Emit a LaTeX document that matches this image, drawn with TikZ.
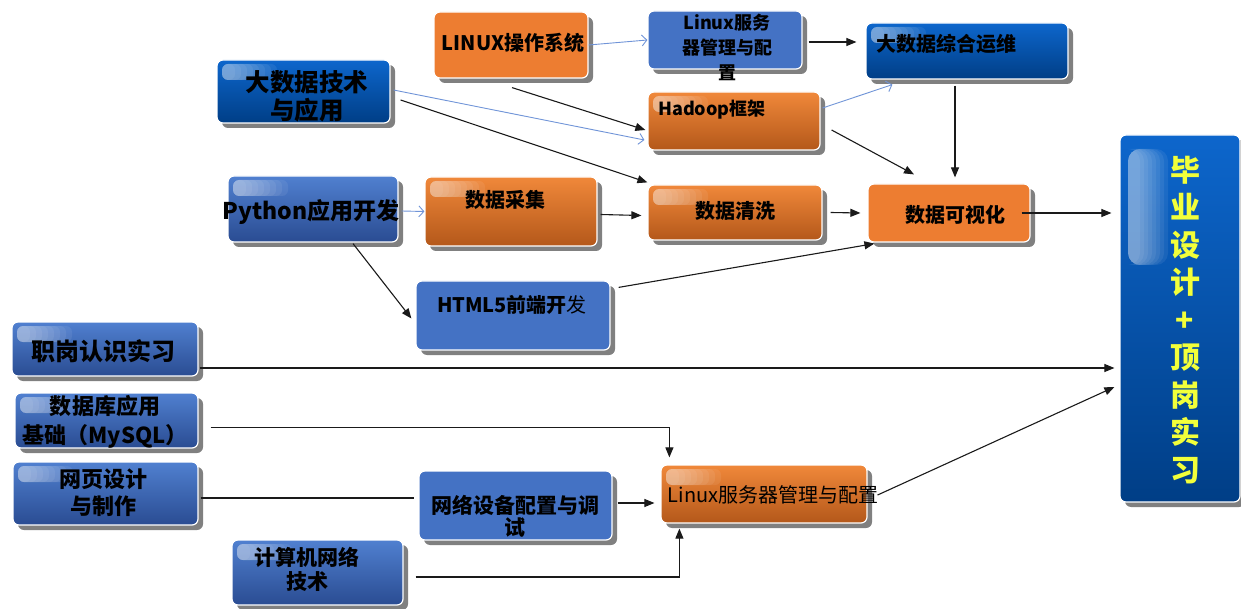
\documentclass[tikz,border=0pt]{standalone}
\usepackage{fontspec}
\setmainfont{Noto Sans CJK SC}
\usetikzlibrary{arrows.meta,shadows,calc}

\definecolor{org}{HTML}{ED7D31}
\definecolor{orgtop}{HTML}{F0883A}
\definecolor{orgbot}{HTML}{B4581A}
\definecolor{midblue}{HTML}{4472C4}
\definecolor{bltop}{HTML}{5080D0}
\definecolor{blbot}{HTML}{2A4C92}
\definecolor{dktop}{HTML}{0D66CC}
\definecolor{dkbot}{HTML}{003E86}
\definecolor{arrblue}{HTML}{7094D8}
\definecolor{txtyel}{HTML}{F2FF3A}
\definecolor{ln}{HTML}{1A1A1A}

\newcommand\fsz[2]{\fontsize{#1}{#2}\selectfont}

\tikzset{
  box/.style={rounded corners=6pt, draw=white, line width=1.2pt,
    drop shadow={shadow xshift=5pt, shadow yshift=-5pt, fill=black!50, opacity=1},
    inner sep=0pt},
  gloss/.style={path picture={
    \foreach \f in {1,0.9,0.8,0.7,0.6,0.5,0.4,0.3}{
      \fill[white, opacity=0.07, rounded corners=6pt]
        ([xshift=5pt,yshift=-4pt]path picture bounding box.north west) rectangle
        ([xshift=\f*#1pt,yshift=-20pt]path picture bounding box.north west);}}},
  gloss/.default=60,
  biggloss/.style={path picture={
    \foreach \f in {1,0.9,0.8,0.7,0.6,0.5,0.4,0.3}{
      \fill[white, opacity=0.07, rounded corners=12pt]
        ([xshift=8pt,yshift=-14pt]path picture bounding box.north west) rectangle
        ([xshift=8pt+\f*40pt,yshift=-130pt]path picture bounding box.north west);}}},
  orangeflat/.style={box, fill=org},
  orangegrad/.style={box, top color=orgtop, bottom color=orgbot, gloss},
  midbluebox/.style={box, fill=midblue},
  bluegrad/.style={box, top color=bltop, bottom color=blbot, gloss},
  darkblue/.style={box, top color=dktop, bottom color=dkbot, gloss},
  txt/.style={align=center, inner sep=0pt, text=black},
  arr/.style={draw=ln, line width=1.1pt, -{Triangle[length=10pt,width=8pt]}},
  barr/.style={draw=arrblue, line width=0.9pt, -{Straight Barb[length=5pt,width=11pt]}},
  plain/.style={draw=ln, line width=1.1pt},
}

\begin{document}
\begin{tikzpicture}[x=1pt,y=1pt]
\fill[white] (0,0) rectangle (1241,-609);
\useasboundingbox (0,0) rectangle (1241,-609);

% boxes
\node[orangeflat, minimum width=154pt, minimum height=66pt] (linuxos) at (511,-45) {};
\node[midbluebox, minimum width=154pt, minimum height=58pt] (srvtop) at (725,-40) {};
\node[darkblue, minimum width=202pt, minimum height=56pt] (ops) at (967,-51) {};
\node[darkblue, minimum width=173pt, minimum height=63pt] (bigdata) at (303.5,-91.5) {};
\node[orangegrad, minimum width=172pt, minimum height=58pt] (hadoop) at (734,-121) {};
\node[bluegrad, minimum width=170pt, minimum height=66pt] (python) at (313,-209) {};
\node[orangegrad, minimum width=172pt, minimum height=69pt] (collect) at (511,-211.5) {};
\node[orangegrad, minimum width=174pt, minimum height=55pt] (clean) at (735,-212.5) {};
\node[orangeflat, minimum width=162pt, minimum height=58pt] (vis) at (949,-213) {};
\node[midbluebox, minimum width=194pt, minimum height=69pt] (html) at (513,-315.5) {};
\node[bluegrad, minimum width=186pt, minimum height=54pt] (intern) at (105,-349) {};
\node[bluegrad, minimum width=183pt, minimum height=55pt] (db) at (106.5,-420.5) {};
\node[bluegrad, minimum width=185pt, minimum height=63pt] (web) at (105.5,-493.5) {};
\node[bluegrad, minimum width=171pt, minimum height=65pt] (net) at (317.5,-572.5) {};
\node[midbluebox, minimum width=193pt, minimum height=69pt] (netdev) at (515.5,-505.5) {};
\node[orangegrad, minimum width=206pt, minimum height=58pt] (srvbot) at (764,-494) {};
\node[box, top color=dktop, bottom color=dkbot, biggloss, minimum width=120pt, minimum height=367pt] (grad) at (1180,-318.5) {};

% texts
\node[txt, font=\bfseries\fsz{20}{23}] (linuxos-t) at (513,-43) {LINUX操作系统};
\node[txt, font=\bfseries\fsz{18}{25}] (srvtop-t) at (727,-47) {Linux服务\\器管理与配\\置};
\node[txt, anchor=west, font=\bfseries\fsz{20}{24}] (ops-t) at (876,-44) {大数据综合运维};
\node[txt, font=\bfseries\fsz{24.5}{28}] (bigdata-t) at (307,-96) {大数据技术\\与应用};
\node[txt, font=\bfseries\fsz{18}{22}] (hadoop-t) at (712,-110) {Hadoop框架};
\node[txt, font=\bfseries\fsz{23}{26}] (python-t) at (311,-212) {Python应用开发};
\node[txt, font=\bfseries\fsz{20}{24}] (collect-t) at (505,-200) {数据采集};
\node[txt, font=\bfseries\fsz{20}{24}] (clean-t) at (735,-211) {数据清洗};
\node[txt, font=\bfseries\fsz{20}{24}] (vis-t) at (955,-215) {数据可视化};
\node[txt, font=\fsz{20}{24}] (html-t) at (512,-305) {\textbf{HTML5前端开}发};
\node[txt, font=\bfseries\fsz{24}{27}] (intern-t) at (103,-351) {职岗认识实习};
\node[txt, font=\bfseries\fsz{22}{29}] (db-t) at (105,-422) {数据库应用\\基础（MySQL）};
\node[txt, font=\bfseries\fsz{22}{27}] (web-t) at (103,-493) {网页设计\\与制作};
\node[txt, font=\bfseries\fsz{21}{24}] (net-t) at (307,-569) {计算机网络\\技术};
\node[txt, font=\bfseries\fsz{21}{22}] (netdev-t) at (515,-516) {网络设备配置与调\\试};
\node[txt, font=\fsz{20}{24}] (srvbot-t) at (773,-495) {Linux服务器管理与配置};
\node[txt, text=txtyel, font=\bfseries\fsz{30}{37.5}] (grad-t) at (1185,-320) {毕\\业\\设\\计\\+\\顶\\岗\\实\\习};

% connectors
\draw[barr] (linuxos.east) -- (srvtop.west);
\draw[arr] ([xshift=6pt,yshift=-2pt]srvtop.east) -- ([xshift=-9pt,yshift=9pt]ops.west);
\draw[barr] ([xshift=3pt,yshift=1.5pt]bigdata.east) -- ([xshift=-3pt,yshift=-19pt]hadoop.west);
\draw[arr] ([xshift=10pt,yshift=-8.5pt]bigdata.east) -- ([xshift=0pt,yshift=2pt]clean.north west);
\draw[arr] ([xshift=1pt,yshift=-9pt]linuxos.south) -- ([xshift=-2pt,yshift=-9pt]hadoop.west);
\draw[barr] ([xshift=2pt,yshift=13pt]hadoop.east) -- ([xshift=27pt,yshift=-5pt]ops.south west);
\draw[arr] ([xshift=11pt,yshift=-9pt]hadoop.east) -- ([xshift=-35pt,yshift=9pt]vis.north);
\draw[arr] ([xshift=-12pt,yshift=-6pt]ops.south) -- ([xshift=6pt,yshift=6pt]vis.north);
\draw[barr] ([xshift=3pt,yshift=-2pt]python.east) -- (collect.west);
\draw[arr] ([xshift=3pt,yshift=-3pt]collect.east) -- ([xshift=-6pt,yshift=-3pt]clean.west);
\draw[arr] ([xshift=8pt]clean.east) -- ([xshift=-7pt]vis.west);
\draw[arr] ([xshift=-9pt]vis.east) -- ([xshift=-8pt,yshift=105.5pt]grad.west);
\draw[arr] ([xshift=40pt,yshift=-1pt]python.south) -- ([xshift=-4pt,yshift=-3pt]html.west);
\draw[arr] ([xshift=8pt,yshift=-7pt]html.north east) -- ([xshift=7pt,yshift=-1pt]vis.south west);
\draw[arr] ([xshift=1pt,yshift=-19pt]intern.east) -- ([xshift=-5pt,yshift=-49.5pt]grad.west);
\draw[arr] ([xshift=12pt,yshift=-7pt]db.east) -| ([xshift=9pt,yshift=7pt]srvbot.north west);
\draw[plain] ([xshift=2pt,yshift=-4.5pt]web.east) -- ([xshift=-4pt,yshift=7.5pt]netdev.west);
\draw[arr] ([xshift=5pt,yshift=2.5pt]netdev.east) -- ([xshift=-6pt,yshift=-9pt]srvbot.west);
\draw[arr] ([xshift=12pt,yshift=-4.5pt]net.east) -| ([xshift=19pt,yshift=-5pt]srvbot.south west);
\draw[arr] ([xshift=10pt,yshift=-1pt]srvbot.east) -- ([xshift=-5pt,yshift=-68.5pt]grad.west);
\end{tikzpicture}
\end{document}
